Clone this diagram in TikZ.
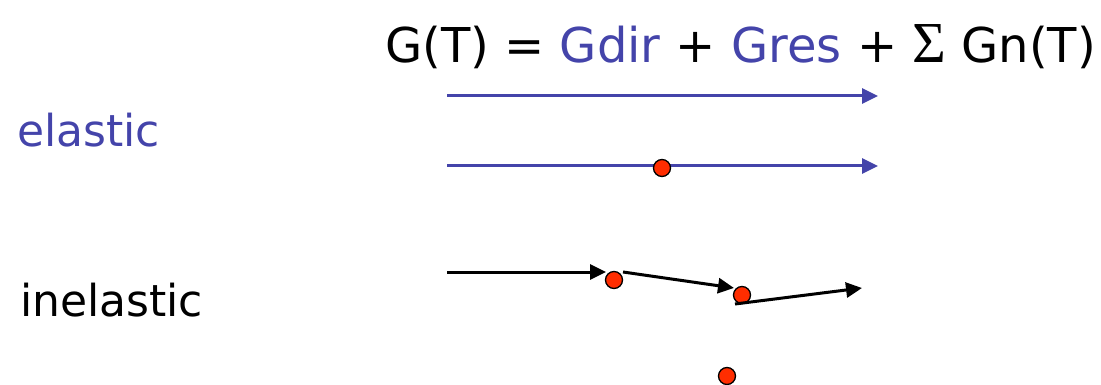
\documentclass[tikz,border=0pt]{standalone}
\usepackage{fontspec}
\setmainfont{DejaVu Sans}
\newfontfamily\sigmafont{Liberation Serif}
\usetikzlibrary{arrows.meta}
\definecolor{eblue}{RGB}{68,68,170}
\definecolor{dotred}{RGB}{255,45,0}
\begin{document}
\begin{tikzpicture}[x=1pt,y=-1pt,
  arr/.style={line width=3pt,-{Triangle[length=16pt,width=15pt]}},
  dot/.style={circle,draw=black,line width=1.3pt,fill=dotred,minimum size=17pt,inner sep=0pt},
  lbl/.style={anchor=base west,inner sep=0pt,font=\fontsize{44}{50}\selectfont}]
\useasboundingbox (0,0) rectangle (1101,385);
% title
\node[lbl,font=\fontsize{48}{56}\selectfont] (title) at (385,63)
  {G(T) = \textcolor{eblue}{Gdir} + \textcolor{eblue}{Gres} + {\sigmafont\fontsize{58}{64}\selectfont Σ} Gn(T)};
% labels
\node[lbl,text=eblue] (el) at (17,147) {elastic};
\node[lbl] (inel) at (20,316) {inelastic};
% elastic arrows
\coordinate (a1s) at (447,96);
\coordinate (a1e) at (878,96);
\draw[arr,eblue] (a1s) -- (a1e);
\coordinate (a2s) at (447,166);
\coordinate (a2e) at (878,166);
\draw[arr,eblue] (a2s) -- (a2e);
\node[dot] (d0) at (662,168) {};
% inelastic
\node[dot] (d1) at (614,280) {};
\node[dot] (d2) at (742,295) {};
\node[dot] (d3) at (727,376) {};
\coordinate (b1s) at (447,272);
\coordinate (b1e) at (606,272);
\coordinate (b2s) at (623,272);
\coordinate (b2e) at (734,288);
\coordinate (b3s) at (735,304);
\coordinate (b3e) at (862,288);
\draw[arr,black] (b1s) -- (b1e);
\draw[arr,black] (b2s) -- (b2e);
\draw[arr,black] (b3s) -- (b3e);
\end{tikzpicture}
\end{document}
